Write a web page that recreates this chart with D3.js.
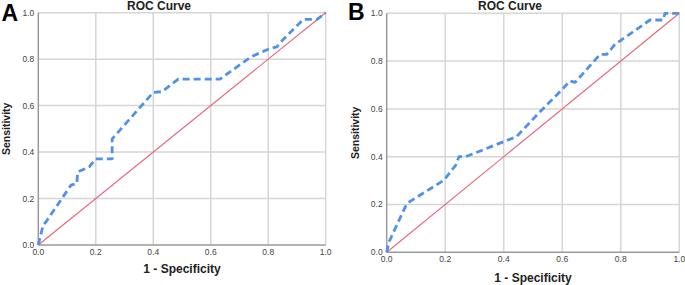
<!DOCTYPE html>
<html>
<head>
<meta charset="utf-8">
<script src="https://cdn.jsdelivr.net/npm/d3@7"></script>
<style>
  html, body { margin: 0; padding: 0; background: #fff; }
  svg { display: block; font-family: "Liberation Sans", Arial, sans-serif; }
</style>
</head>
<body>
<svg id="chart" width="685" height="285"></svg>
<script>
// ---- Data ----
const ticks = [0, 0.2, 0.4, 0.6, 0.8, 1.0];
const tickLabels = ["0.0", "0.2", "0.4", "0.6", "0.8", "1.0"];

const rocA_fpr = [0, 0.017, 0.027, 0.114, 0.134, 0.137, 0.178, 0.2, 0.257, 0.257, 0.40, 0.43, 0.487, 0.632, 0.74, 0.80, 0.83, 0.853, 0.922, 0.97, 1.0];
const rocA_tpr = [0, 0.086, 0.10, 0.258, 0.264, 0.314, 0.337, 0.371, 0.371, 0.457, 0.657, 0.66, 0.714, 0.714, 0.81, 0.843, 0.853, 0.886, 0.971, 0.971, 1.0];

const rocB_fpr = [0, 0.008, 0.068, 0.076, 0.196, 0.236, 0.247, 0.27, 0.40, 0.444, 0.524, 0.598, 0.626, 0.644, 0.729, 0.752, 0.78, 0.90, 0.945, 0.951, 1.0];
const rocB_tpr = [0, 0.044, 0.202, 0.21, 0.302, 0.365, 0.40, 0.40, 0.463, 0.484, 0.588, 0.679, 0.717, 0.711, 0.828, 0.828, 0.87, 0.972, 0.972, 1.0, 1.0];

const diagonal = [0, 1];

const panels = [
  { letter: "A", title: "ROC Curve", xLabel: "1 - Specificity", yLabel: "Sensitivity",
    fpr: rocA_fpr, tpr: rocA_tpr,
    box: { x0: 38.3, x1: 325.7, y0: 12.7, y1: 245 },
    letterPos: [1.5, 20.5], titleX: 159, xTickBase: 254.5, xLabelBase: 273, yLabelX: 9.5 },
  { letter: "B", title: "ROC Curve", xLabel: "1 - Specificity", yLabel: "Sensitivity",
    fpr: rocB_fpr, tpr: rocB_tpr,
    box: { x0: 386.7, x1: 679.3, y0: 13.3, y1: 252.3 },
    letterPos: [348, 19.5], titleX: 510, xTickBase: 262, xLabelBase: 282, yLabelX: 358.5 }
];

const svg = d3.select("#chart");

panels.forEach(p => {
  const g = svg.append("g");
  const x = d3.scaleLinear().domain([0, 1]).range([p.box.x0, p.box.x1]);
  const y = d3.scaleLinear().domain([0, 1]).range([p.box.y1, p.box.y0]);

  // gridlines
  g.append("g").selectAll("line.vg").data(ticks.slice(1)).join("line")
    .attr("x1", d => x(d)).attr("x2", d => x(d))
    .attr("y1", y(0)).attr("y2", y(1))
    .attr("stroke", "#d6d6d6").attr("stroke-width", 1.5);
  g.append("g").selectAll("line.hg").data(ticks.slice(1)).join("line")
    .attr("x1", x(0)).attr("x2", x(1))
    .attr("y1", d => y(d)).attr("y2", d => y(d))
    .attr("stroke", "#d6d6d6").attr("stroke-width", 1.5);

  // axis lines
  g.append("line").attr("x1", x(0)).attr("x2", x(0)).attr("y1", y(0)).attr("y2", y(1))
    .attr("stroke", "#9a9a9a").attr("stroke-width", 1.5);
  g.append("line").attr("x1", x(0)).attr("x2", x(1)).attr("y1", y(0)).attr("y2", y(0))
    .attr("stroke", "#9a9a9a").attr("stroke-width", 1.5);

  // tick labels
  g.append("g").selectAll("text").data(ticks).join("text")
    .attr("x", d => x(d)).attr("y", p.xTickBase)
    .attr("text-anchor", "middle").attr("font-size", 8.5).attr("fill", "#444")
    .text((d, i) => tickLabels[i]);
  g.append("g").selectAll("text").data(ticks).join("text")
    .attr("x", x(0) - 4).attr("y", d => y(d)).attr("dy", "0.35em")
    .attr("text-anchor", "end").attr("font-size", 8.5).attr("fill", "#444")
    .text((d, i) => tickLabels[i]);

  // diagonal reference line
  g.append("line")
    .attr("x1", x(diagonal[0])).attr("y1", y(diagonal[0]))
    .attr("x2", x(diagonal[1])).attr("y2", y(diagonal[1]))
    .attr("stroke", "#e8637b").attr("stroke-width", 1.1);

  // ROC curve
  const pts = p.fpr.map((v, i) => [v, p.tpr[i]]);
  g.append("path").datum(pts)
    .attr("d", d3.line().x(d => x(d[0])).y(d => y(d[1])))
    .attr("fill", "none").attr("stroke", "#4f92e6").attr("stroke-width", 2.8)
    .attr("stroke-dasharray", "7,4").attr("stroke-linejoin", "round");

  // titles and labels
  g.append("text").attr("x", p.titleX).attr("y", 10)
    .attr("text-anchor", "middle").attr("font-size", 12).attr("font-weight", "bold")
    .attr("fill", "#222").text(p.title);
  g.append("text").attr("x", (p.box.x0 + p.box.x1) / 2).attr("y", p.xLabelBase)
    .attr("text-anchor", "middle").attr("font-size", 12).attr("font-weight", "bold")
    .attr("fill", "#222").text(p.xLabel);
  g.append("text")
    .attr("transform", `translate(${p.yLabelX},${(p.box.y0 + p.box.y1) / 2}) rotate(-90)`)
    .attr("text-anchor", "middle").attr("font-size", 10.5).attr("font-weight", "bold")
    .attr("fill", "#222").text(p.yLabel);
  g.append("text").attr("x", p.letterPos[0]).attr("y", p.letterPos[1])
    .attr("font-size", 23).attr("font-weight", "bold").attr("fill", "#000")
    .text(p.letter);
});
</script>
</body>
</html>
